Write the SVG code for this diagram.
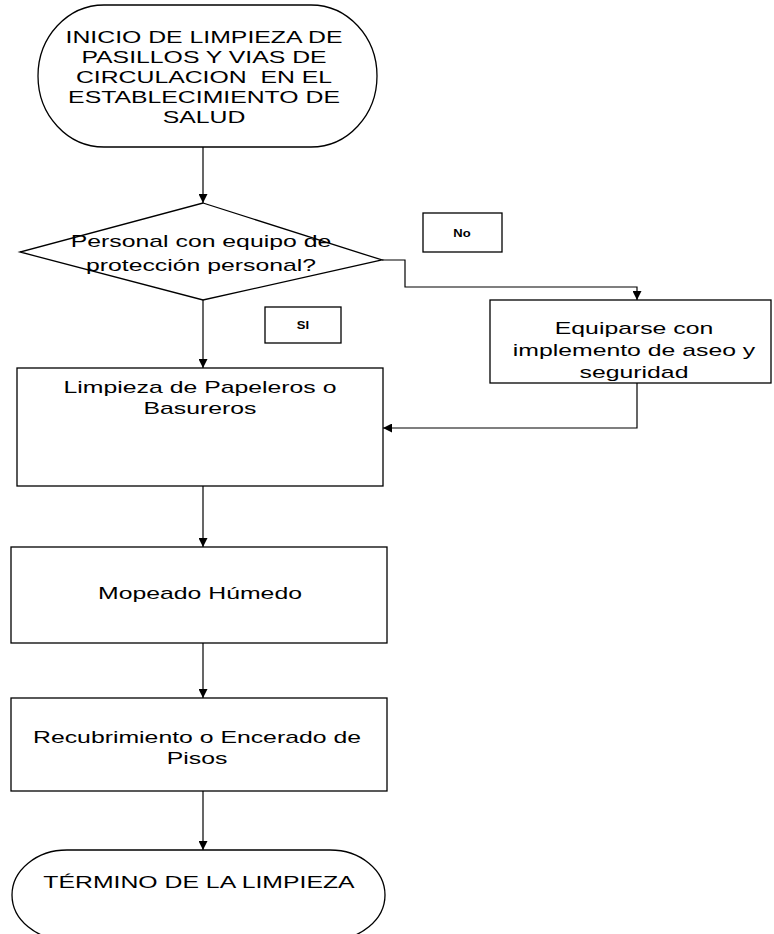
<svg xmlns="http://www.w3.org/2000/svg" width="774" height="934" viewBox="0 0 774 934">
<style>
  .shape { fill: #ffffff; stroke: #000000; stroke-width: 1.3; }
  .conn { fill: none; stroke: #000000; stroke-width: 1.2; }
  .t { font-family: "Liberation Sans", Arial, sans-serif; font-size: 16px; fill: #000000; text-anchor: middle; }
  .s { font-family: "Liberation Sans", Arial, sans-serif; font-size: 10px; font-weight: bold; fill: #000000; text-anchor: middle; }
</style>
<defs>
  <marker id="arr" viewBox="0 0 10 10" refX="10" refY="5" markerWidth="9" markerHeight="9" markerUnits="userSpaceOnUse" orient="auto">
    <path d="M0,0 L10,5 L0,10 Z" fill="#000000"/>
  </marker>
</defs>
<rect width="774" height="934" fill="#ffffff"/>

<g id="connectors">
  <path class="conn" d="M203,147 V203" marker-end="url(#arr)"/>
  <path class="conn" d="M382,260 H405 V287 H637 V300" marker-end="url(#arr)"/>
  <path class="conn" d="M203,300 V368" marker-end="url(#arr)"/>
  <path class="conn" d="M637,383 V428 H383" marker-end="url(#arr)"/>
  <path class="conn" d="M203,486 V547" marker-end="url(#arr)"/>
  <path class="conn" d="M203,643 V698" marker-end="url(#arr)"/>
  <path class="conn" d="M203,791 V850" marker-end="url(#arr)"/>
</g>

<g id="start">
  <rect class="shape" x="38" y="5" width="339" height="142" rx="66" ry="71"/>
  <text class="t" transform="translate(204,43) scale(1.55,1)">INICIO DE LIMPIEZA DE</text>
  <text class="t" transform="translate(204,63) scale(1.55,1)">PASILLOS Y VIAS DE</text>
  <text class="t" transform="translate(204,83) scale(1.55,1)" xml:space="preserve">CIRCULACION  EN EL</text>
  <text class="t" transform="translate(204,103) scale(1.55,1)">ESTABLECIMIENTO DE</text>
  <text class="t" transform="translate(204,123) scale(1.55,1)">SALUD</text>
</g>

<g id="decision">
  <polygon class="shape" points="203,203 382,260 203,300 20,252"/>
  <text class="t" transform="translate(201,247) scale(1.55,1)">Personal con equipo de</text>
  <text class="t" transform="translate(201,271) scale(1.55,1)">protección personal?</text>
</g>

<g id="label-no">
  <rect class="shape" x="423" y="213" width="79" height="39"/>
  <text class="s" transform="translate(462,237) scale(1.3,1)">No</text>
</g>

<g id="label-si">
  <rect class="shape" x="265" y="307" width="76" height="36"/>
  <text class="s" transform="translate(303,329) scale(1.3,1)">SI</text>
</g>

<g id="equiparse">
  <rect class="shape" x="490" y="300" width="281" height="83"/>
  <text class="t" transform="translate(634,334) scale(1.55,1)">Equiparse con</text>
  <text class="t" transform="translate(634,356) scale(1.55,1)">implemento de aseo y</text>
  <text class="t" transform="translate(634,378) scale(1.55,1)">seguridad</text>
</g>

<g id="limpieza">
  <rect class="shape" x="17" y="368" width="366" height="118"/>
  <text class="t" transform="translate(200,393) scale(1.55,1)">Limpieza de Papeleros o</text>
  <text class="t" transform="translate(200,414) scale(1.55,1)">Basureros</text>
</g>

<g id="mopeado">
  <rect class="shape" x="11" y="547" width="376" height="96"/>
  <text class="t" transform="translate(200,599) scale(1.55,1)">Mopeado Húmedo</text>
</g>

<g id="recubrimiento">
  <rect class="shape" x="11" y="698" width="376" height="93"/>
  <text class="t" transform="translate(197,743) scale(1.55,1)">Recubrimiento o Encerado de</text>
  <text class="t" transform="translate(197,764) scale(1.55,1)">Pisos</text>
</g>

<g id="end">
  <rect class="shape" x="12" y="850" width="373" height="90" rx="55" ry="45"/>
  <text class="t" transform="translate(199,888) scale(1.55,1)">TÉRMINO DE LA LIMPIEZA</text>
</g>
</svg>
